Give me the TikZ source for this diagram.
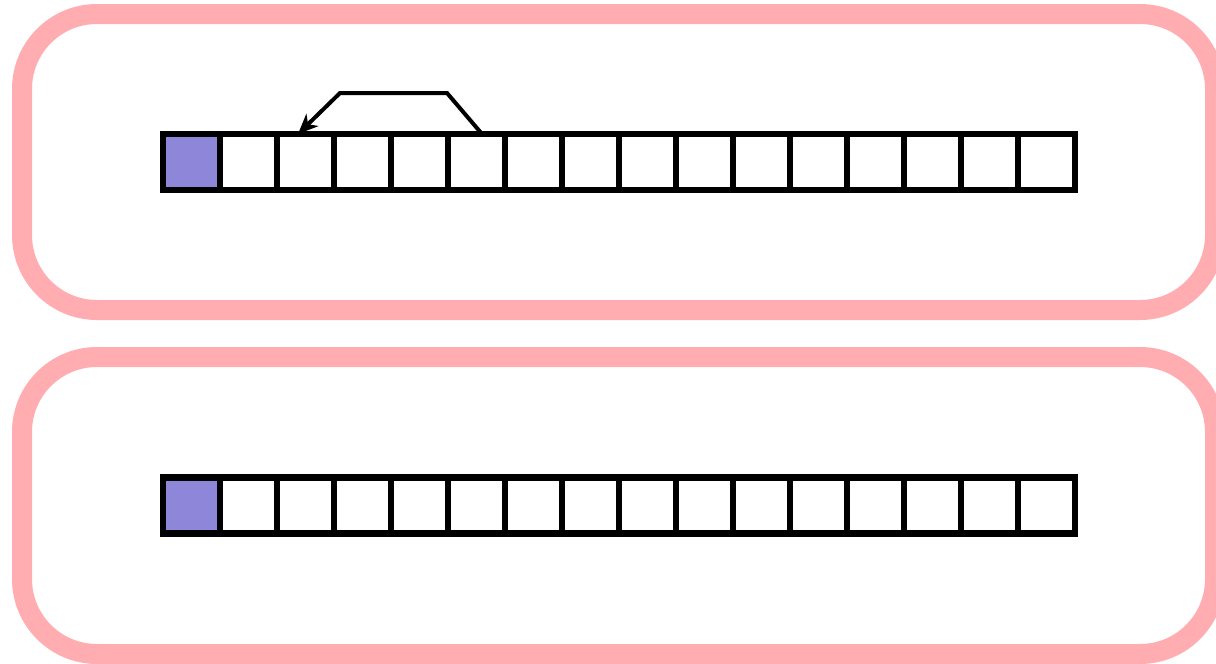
\documentclass[tikz,border=0pt]{standalone}
\usetikzlibrary{arrows.meta}
\definecolor{pinkframe}{RGB}{255,173,176}
\definecolor{cellpurple}{RGB}{142,134,216}
\tikzset{
  frame/.style={draw=pinkframe, line width=20pt, rounded corners=75pt},
  cell/.style={draw=black, line width=6.5pt, minimum width=57pt, minimum height=56pt, inner sep=0pt, outer sep=0pt, fill=white},
  headcell/.style={cell, fill=cellpurple},
  jump/.style={draw=black, line width=4pt, -{Stealth[length=20pt,width=17pt,inset=6pt]}},
}
\begin{document}
\begin{tikzpicture}[x=1pt,y=-1pt]
\useasboundingbox (0,0) rectangle (1216,664);
\clip (0,0) rectangle (1216,664);
\fill[white] (0,0) rectangle (1216,664);
\draw[frame] (22,14) rectangle (1215,310);
\draw[frame] (22,357) rectangle (1215,654);
\foreach \i in {0,...,15}{
  \pgfmathsetmacro\cx{163+57*(\i+0.5)}
  \ifnum\i=0
    \node[headcell] (t\i) at (\cx,162) {};
    \node[headcell] (b\i) at (\cx,505.5) {};
  \else
    \node[cell] (t\i) at (\cx,162) {};
    \node[cell] (b\i) at (\cx,505.5) {};
  \fi
}
\coordinate (src) at ([xshift=5.5pt]t5.north);
\coordinate (dst) at ([xshift=-7.5pt]t2.north);
\draw[jump] (src) -- ++(-35,-41) -- ++(-107,0) -- (dst);
\end{tikzpicture}
\end{document}
